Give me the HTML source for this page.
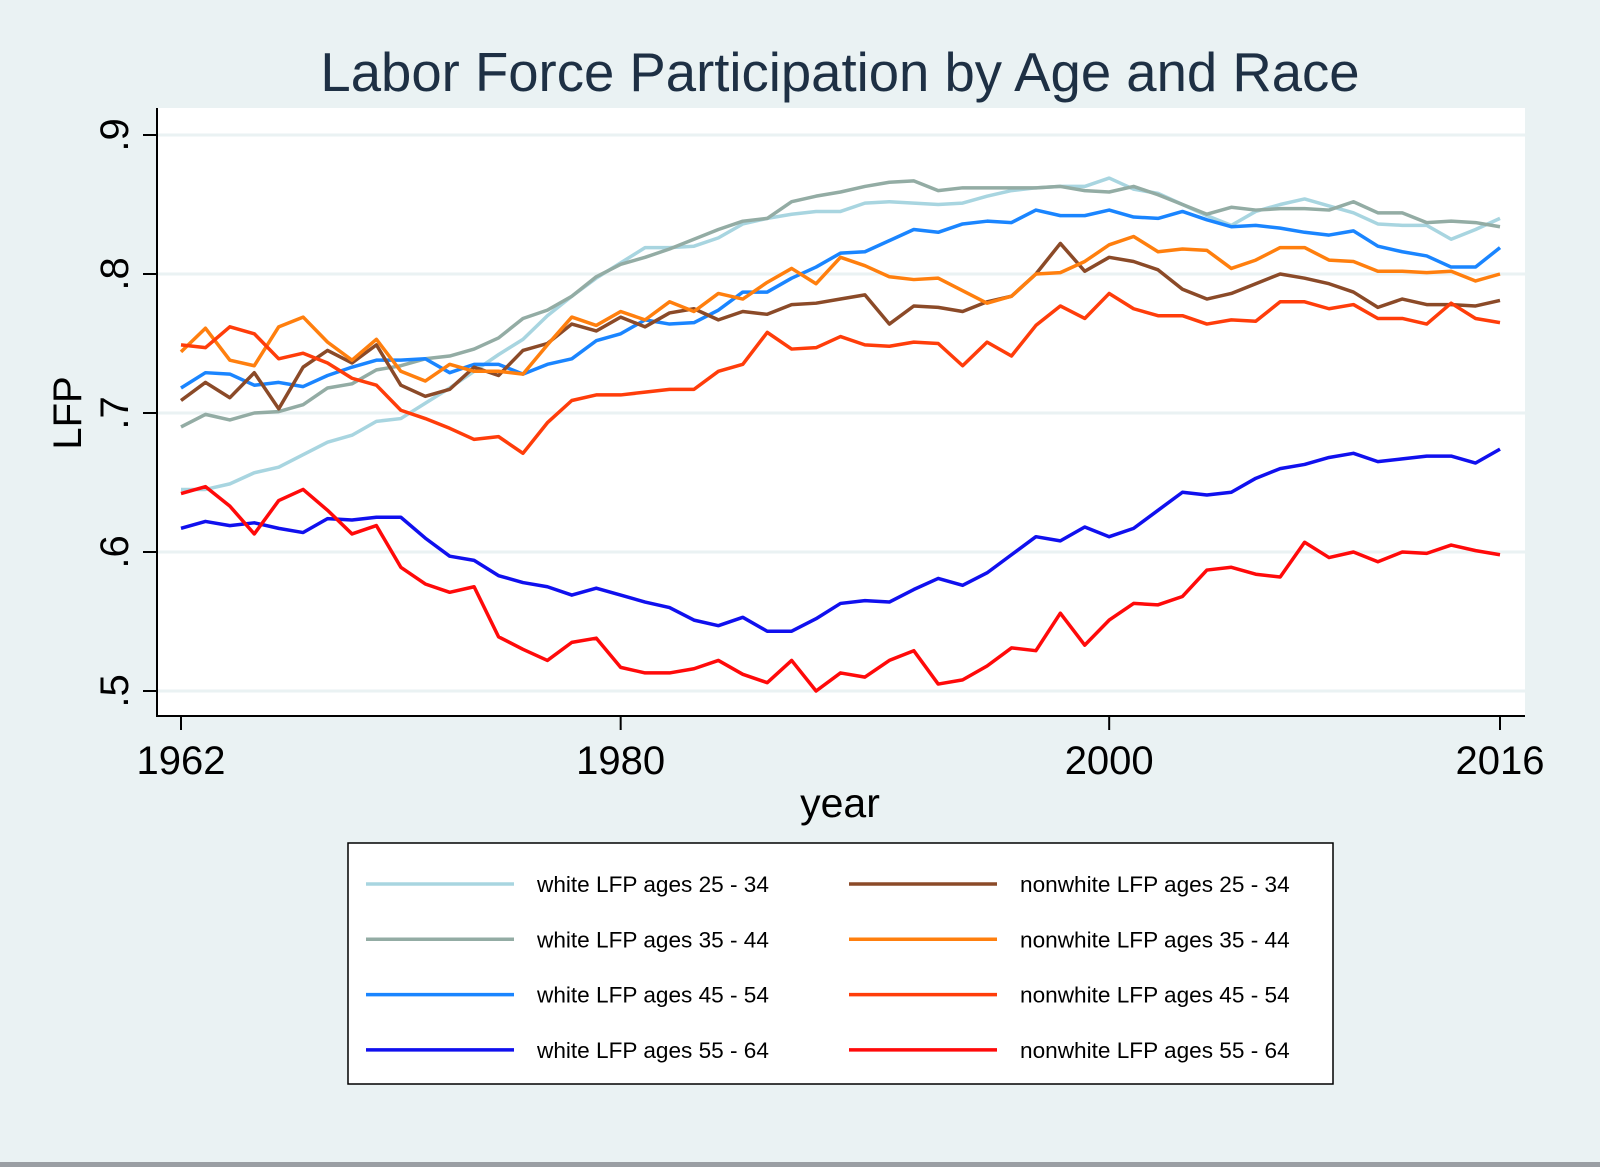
<!DOCTYPE html>
<html><head><meta charset="utf-8"><style>
body{margin:0;background:#eaf2f3;}
svg{display:block;font-family:"Liberation Sans",sans-serif;}
</style></head><body>
<svg id="c" width="1600" height="1167">
<rect x="0" y="0" width="1600" height="1167" fill="#eaf2f3"/>
<rect x="0" y="1162" width="1600" height="5" fill="#9a9ea3"/>
<text x="840" y="91" font-size="54.5" fill="#1e3044" text-anchor="middle">Labor Force Participation by Age and Race</text>
<rect x="157" y="108" width="1368" height="608" fill="#fff"/>
<g id="grid"></g>
<g id="series"></g>
<line x1="157" y1="108" x2="157" y2="717" stroke="#000" stroke-width="2"/>
<line x1="156" y1="716" x2="1525" y2="716" stroke="#000" stroke-width="2"/>
<g id="ticks"></g>
<text x="840" y="817" font-size="41" text-anchor="middle" fill="#000">year</text>
<text transform="translate(81,413) rotate(-90)" font-size="40" text-anchor="middle" fill="#000">LFP</text>
<rect x="348" y="843" width="985" height="241" fill="#fff" stroke="#000" stroke-width="1.5"/>
<g id="legend"></g>
</svg>
<script>
const years=[];for(let y=1962;y<=2016;y++)years.push(y);
const yTicks=[0.5,0.6,0.7,0.8,0.9];
const yTickLabels=[".5",".6",".7",".8",".9"];
const xTicks=[1962,1980,2000,2016];
const w2534=[.645,.645,.649,.657,.661,.670,.679,.684,.694,.696,.707,.718,.730,.742,.753,.770,.784,.797,.808,.819,.819,.820,.826,.836,.840,.843,.845,.845,.851,.852,.851,.850,.851,.856,.860,.862,.863,.863,.869,.861,.858,.850,.842,.835,.845,.850,.854,.849,.844,.836,.835,.835,.825,.832,.840];
const w3544=[.690,.699,.695,.700,.701,.706,.718,.721,.731,.734,.739,.741,.746,.754,.768,.774,.784,.798,.807,.812,.818,.825,.832,.838,.840,.852,.856,.859,.863,.866,.867,.860,.862,.862,.862,.862,.863,.860,.859,.863,.857,.850,.843,.848,.846,.847,.847,.846,.852,.844,.844,.837,.838,.837,.834];
const w4554=[.718,.729,.728,.720,.722,.719,.727,.733,.738,.738,.739,.729,.735,.735,.728,.735,.739,.752,.757,.767,.764,.765,.774,.787,.787,.797,.805,.815,.816,.824,.832,.830,.836,.838,.837,.846,.842,.842,.846,.841,.840,.845,.839,.834,.835,.833,.830,.828,.831,.820,.816,.813,.805,.805,.819];
const w5564=[.617,.622,.619,.621,.617,.614,.624,.623,.625,.625,.610,.597,.594,.583,.578,.575,.569,.574,.569,.564,.560,.551,.547,.553,.543,.543,.552,.563,.565,.564,.573,.581,.576,.585,.598,.611,.608,.618,.611,.617,.630,.643,.641,.643,.653,.660,.663,.668,.671,.665,.667,.669,.669,.664,.674];
const n2534=[.709,.722,.711,.729,.703,.733,.745,.736,.749,.720,.712,.717,.733,.727,.745,.750,.764,.759,.769,.762,.772,.775,.767,.773,.771,.778,.779,.782,.785,.764,.777,.776,.773,.780,.784,.800,.822,.802,.812,.809,.803,.789,.782,.786,.793,.800,.797,.793,.787,.776,.782,.778,.778,.777,.781];
const n3544=[.744,.761,.738,.734,.762,.769,.751,.738,.753,.730,.723,.735,.730,.730,.728,.749,.769,.763,.773,.767,.780,.773,.786,.782,.794,.804,.793,.812,.806,.798,.796,.797,.788,.779,.784,.800,.801,.809,.821,.827,.816,.818,.817,.804,.810,.819,.819,.810,.809,.802,.802,.801,.802,.795,.800];
const n4554=[.749,.747,.762,.757,.739,.743,.736,.725,.720,.702,.696,.689,.681,.683,.671,.693,.709,.713,.713,.715,.717,.717,.730,.735,.758,.746,.747,.755,.749,.748,.751,.750,.734,.751,.741,.763,.777,.768,.786,.775,.770,.770,.764,.767,.766,.780,.780,.775,.778,.768,.768,.764,.779,.768,.765];
const n5564=[.642,.647,.633,.613,.637,.645,.630,.613,.619,.589,.577,.571,.575,.539,.530,.522,.535,.538,.517,.513,.513,.516,.522,.512,.506,.522,.500,.513,.510,.522,.529,.505,.508,.518,.531,.529,.556,.533,.551,.563,.562,.568,.587,.589,.584,.582,.607,.596,.600,.593,.600,.599,.605,.601,.598];
const seriesNames=["white LFP ages 25 - 34","white LFP ages 35 - 44","white LFP ages 45 - 54","white LFP ages 55 - 64","nonwhite LFP ages 25 - 34","nonwhite LFP ages 35 - 44","nonwhite LFP ages 45 - 54","nonwhite LFP ages 55 - 64"];
const seriesData=[w2534,w3544,w4554,w5564,n2534,n3544,n4554,n5564];
const colors=["#a8d5e0","#93aca4","#1a85ff","#1010ee","#8b4a28","#ff7f0e","#ff3d0a","#ff0a0a"];
const ns="http://www.w3.org/2000/svg";
const X=v=>181+(v-1962)*(1319/54);
const Y=v=>691-(v-0.5)*1390;
function mk(tag,attrs,parent){const e=document.createElementNS(ns,tag);for(const k in attrs)e.setAttribute(k,attrs[k]);parent.appendChild(e);return e;}
const grid=document.getElementById('grid'),ticks=document.getElementById('ticks'),ser=document.getElementById('series'),leg=document.getElementById('legend');
yTicks.forEach((t,i)=>{
  const g=mk('line',{x1:157,x2:1525,y1:Y(t),y2:Y(t),stroke:'#eaf2f3','stroke-width':3},grid);
  
  
  const tk=mk('line',{x1:143,x2:157,y1:Y(t),y2:Y(t),stroke:'#000','stroke-width':2},ticks);
  
  
  const tx=mk('text',{transform:`translate(128,${Y(t)}) rotate(-90)`,'font-size':40,'text-anchor':'middle'},ticks);
  tx.textContent=yTickLabels[i];
  
  
});
xTicks.forEach(t=>{
  const tk=mk('line',{x1:X(t),x2:X(t),y1:716,y2:730,stroke:'#000','stroke-width':2},ticks);
  
  
  const tx=mk('text',{x:X(t),y:774,'font-size':40,'text-anchor':'middle'},ticks);
  tx.textContent=t;
  
  
});
seriesData.forEach((d,i)=>{
  const p=mk('polyline',{points:d.map((v,j)=>X(years[j])+','+Y(v)).join(' '),fill:'none',stroke:colors[i],'stroke-width':3.5,'stroke-linejoin':'round'},ser);
  
  
  const col=i<4?0:1,row=i%4;
  const lx=col?849:366,ly=884+row*55.3;
  const l=mk('line',{x1:lx,x2:lx+148,y1:ly,y2:ly,stroke:colors[i],'stroke-width':3.5},leg);
  
  
  const t=mk('text',{x:lx+171,y:ly+8,'font-size':22.6},leg);
  t.textContent=seriesNames[i];
  
  
});
</script>
</body></html>
